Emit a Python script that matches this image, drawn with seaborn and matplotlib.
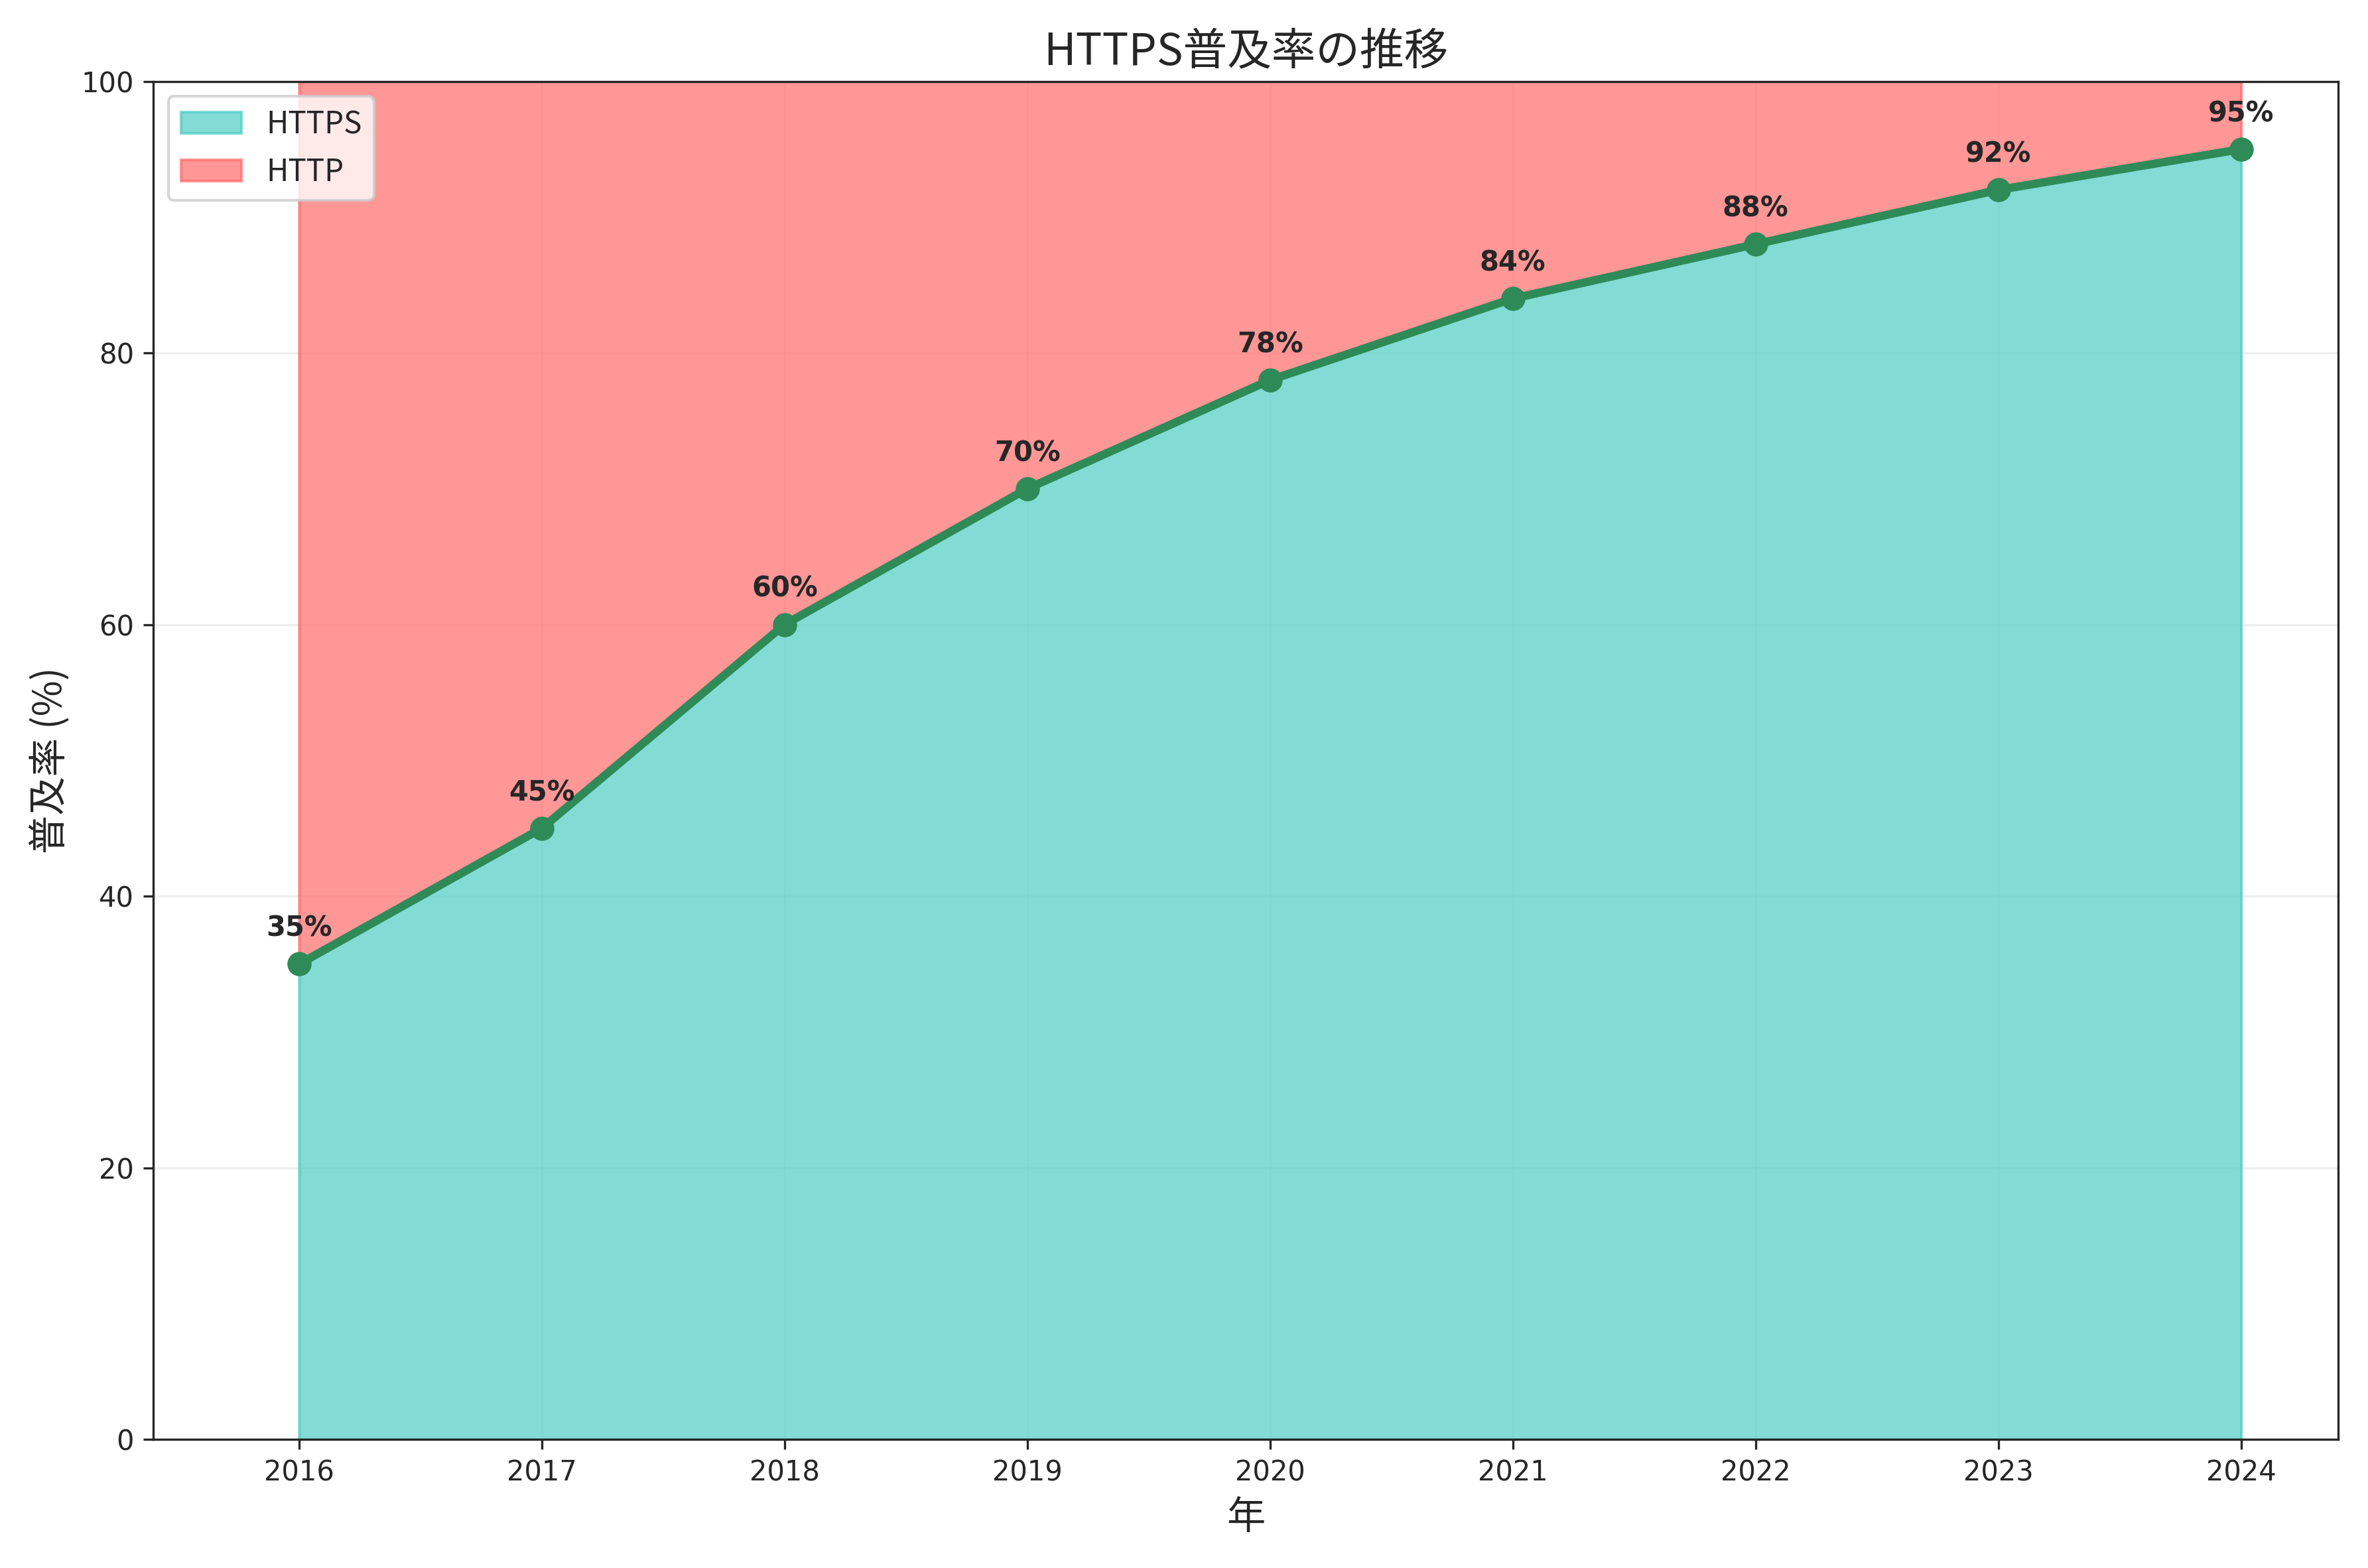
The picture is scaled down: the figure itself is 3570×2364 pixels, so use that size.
import matplotlib
matplotlib.use("Agg")
import matplotlib.pyplot as plt
import seaborn as sns
import pandas as pd

years = [2016, 2017, 2018, 2019, 2020, 2021, 2022, 2023, 2024]
https_rate = [35, 45, 60, 70, 78, 84, 88, 92, 95]

df = pd.DataFrame({"year": years, "https": https_rate})

sns.set_style("ticks")
plt.rcParams['font.family'] = ['Noto Sans CJK JP', 'DejaVu Sans']

fig, ax = plt.subplots(figsize=(11.9, 7.88), dpi=300)
ax.fill_between(df["year"], 0, df["https"], color="#4ECDC4", alpha=0.7, label="HTTPS")
ax.fill_between(df["year"], df["https"], 100, color="#FF6B6B", alpha=0.7, label="HTTP")
sns.lineplot(data=df, x="year", y="https", ax=ax, color="#2E8B57", linewidth=3,
             marker="o", markersize=8, markeredgecolor="#2E8B57")

for x, y in zip(years, https_rate):
    ax.annotate(f"{y}%", (x, y), xytext=(0, 10), textcoords="offset points",
                ha="center", fontsize=10, fontweight="bold", family="DejaVu Sans")

ax.set_ylim(0, 100)
ax.set_xlim(2015.4, 2024.4)
ax.set_xticks(years)
ax.set_title("HTTPS普及率の推移", fontsize=16)
ax.set_xlabel("年", fontsize=14)
ax.set_ylabel("普及率 (%)", fontsize=14)
ax.tick_params(labelsize=10)
for lbl in ax.get_xticklabels() + ax.get_yticklabels():
    lbl.set_family("DejaVu Sans")
ax.grid(True, alpha=0.3)
ax.legend(loc="upper left", fontsize=11)
fig.tight_layout()
fig.savefig("out.png")
